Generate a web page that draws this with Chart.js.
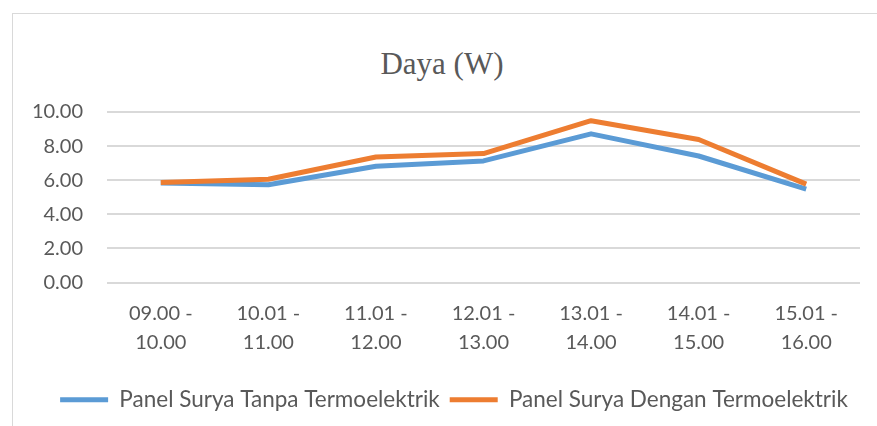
<!DOCTYPE html>
<html>
<head>
<meta charset="utf-8">
<script src="https://cdn.jsdelivr.net/npm/chart.js@4"></script>
<style>
  html, body { margin: 0; padding: 0; background: #fff; overflow: hidden; width: 877px; height: 426px; }
  .frame { position: absolute; left: 12px; top: 13px; width: 900px; height: 450px;
           border-top: 1px solid #d9d9d9; border-left: 1px solid #d9d9d9; }
  .title { position: absolute; left: 342px; width: 200px; top: 46px; text-align: center;
           font: 31px "Liberation Serif", "Times New Roman", serif; color: #595959; line-height: 36px; }
  #wrap { position: absolute; left: 0; top: 0; width: 877px; height: 426px; }
</style>
</head>
<body>
<div class="frame"></div>
<div class="title">Daya (W)</div>
<div id="wrap"><canvas id="dayaChart" width="877" height="426"></canvas></div>
<script>
// data
const jam = [
    ['09.00 -', '10.00'], ['10.01 -', '11.00'], ['11.01 -', '12.00'], ['12.01 -', '13.00'],
    ['13.01 -', '14.00'], ['14.01 -', '15.00'], ['15.01 -', '16.00']
];
const tanpaTermo = [5.83, 5.73, 6.82, 7.13, 8.72, 7.42, 5.48];
const denganTermo = [5.87, 6.06, 7.36, 7.56, 9.49, 8.39, 5.77];
const yTicks = [0, 2, 4, 6, 8, 10];

const grey = '#595959';
const labelFont = { family: 'Lato, "Open Sans", sans-serif', size: 20 };

// the legend in the original sits a bit right of the plot centre
const legendShift = {
    id: 'legendShift',
    afterLayout(chart) {
        chart.legend.left += 24;
        chart.legend.right += 24;
    }
};

let ctx = document.getElementById('dayaChart').getContext('2d');
let dayaChart = new Chart(ctx, {
    type: 'line',
    data: {
        labels: jam,
        datasets: [{
            label: 'Panel Surya Tanpa Termoelektrik',
            data: tanpaTermo,
            borderColor: '#5B9BD5',
            backgroundColor: '#5B9BD5',
            borderWidth: 5,
            order: 1
        }, {
            label: 'Panel Surya Dengan Termoelektrik',
            data: denganTermo,
            borderColor: '#ED7D31',
            backgroundColor: '#ED7D31',
            borderWidth: 5,
            order: 0
        }]
    },
    options: {
        responsive: false,
        animation: false,
        devicePixelRatio: 1,
        elements: {
            line: { tension: 0, borderCapStyle: 'butt', borderJoinStyle: 'round' },
            point: { radius: 0, hoverRadius: 0 }
        },
        layout: { padding: { left: 0, right: 17, top: 112, bottom: 5 } },
        plugins: {
            title: { display: false },
            tooltip: { enabled: false },
            legend: {
                position: 'bottom',
                labels: {
                    color: grey,
                    font: { ...labelFont, size: 22.5 },
                    boxWidth: 48,
                    boxHeight: 5,
                    padding: 10,
                    sort: (a, b) => a.datasetIndex - b.datasetIndex,
                    generateLabels: function(chart) {
                        let items = Chart.defaults.plugins.legend.labels.generateLabels(chart);
                        items.forEach(it => { it.lineWidth = 0; });
                        return items;
                    }
                }
            }
        },
        scales: {
            x: {
                offset: true,
                grid: { display: false, drawTicks: false },
                border: { display: false },
                ticks: { color: grey, font: { ...labelFont, lineHeight: 1.45 }, padding: 17, maxRotation: 0 },
                afterFit: function(scale) { scale.height = 96; }
            },
            y: {
                min: 0,
                max: 10,
                afterBuildTicks: function(scale) { scale.ticks = yTicks.map(v => ({ value: v })); },
                grid: { color: '#d9d9d9', lineWidth: 2, drawTicks: false },
                border: { display: false },
                ticks: { color: grey, font: labelFont, padding: 24, callback: v => v.toFixed(2) },
                afterFit: function(scale) { scale.width = 107; }
            }
        }
    },
    plugins: [legendShift]
});
</script>
</body>
</html>
